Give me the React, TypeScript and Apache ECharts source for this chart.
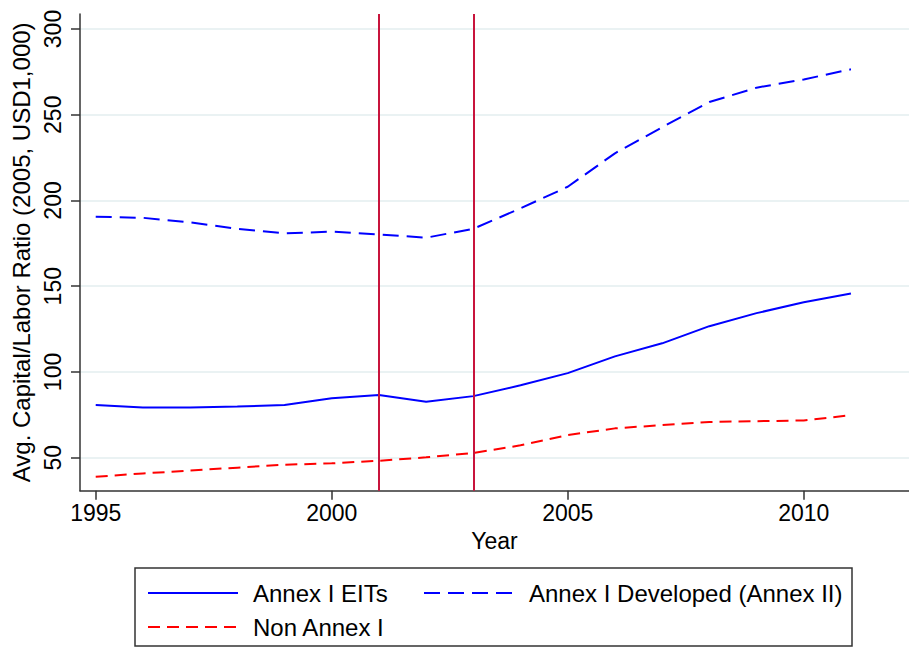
import React, { useEffect, useRef } from "react";
import * as echarts from "echarts";

// Years covered by the panel
const years = [1995, 1996, 1997, 1998, 1999, 2000, 2001, 2002, 2003, 2004, 2005, 2006, 2007, 2008, 2009, 2010, 2011];

// Average capital/labor ratio (2005, USD 1,000) by country group
const annexIEITs = [80.7, 79.2, 79.3, 79.9, 80.7, 84.6, 86.5, 82.6, 85.9, 92.2, 99.3, 109.1, 116.7, 126.7, 134.3, 140.6, 145.8];
const annexIDeveloped = [190.5, 189.9, 187.2, 183.5, 180.8, 181.8, 180.2, 178.3, 183.5, 195.4, 208.0, 227.5, 242.7, 257.4, 265.8, 270.6, 276.5];
const nonAnnexI = [38.9, 40.8, 42.5, 44.2, 45.9, 46.7, 48.2, 50.2, 52.8, 57.2, 63.2, 67.1, 69.0, 70.8, 71.3, 71.7, 74.8];

// Reference years marked with vertical lines
const markYears = [2001, 2003];

// Axis tick values
const xTicks = [1995, 2000, 2005, 2010];
const yTicks = [50, 100, 150, 200, 250, 300];

const FONT = "'Liberation Sans', Arial, Helvetica, sans-serif";

const toPairs = (vals: number[]) => years.map((y, i) => [y, vals[i]]);

export default function App() {
  const ref = useRef<HTMLDivElement>(null);

  useEffect(() => {
    if (!ref.current) return;
    const chart = echarts.init(ref.current, undefined, { renderer: "svg" });

    const legendBase = {
      orient: "horizontal" as const,
      padding: 0,
      itemWidth: 90,
      itemHeight: 14,
      selectedMode: false,
      // hide the marker dot so only the line sample shows
      itemStyle: { color: "rgba(0,0,0,0)", borderWidth: 0, opacity: 0 },
      textStyle: { fontFamily: FONT, fontSize: 24, color: "#000", padding: [0, 0, 0, 10] },
    };

    chart.setOption({
      animation: false,
      backgroundColor: "#fff",
      textStyle: { fontFamily: FONT },
      grid: { left: 80, right: 0, top: 14, bottom: 157.3, containLabel: false },
      xAxis: {
        type: "value",
        min: 1994.667,
        max: 2012.23,
        name: "Year",
        nameLocation: "middle",
        nameGap: 39,
        nameTextStyle: { fontFamily: FONT, fontSize: 23, color: "#000" },
        axisLine: { show: true, lineStyle: { color: "#333", width: 1.5 } },
        axisTick: { show: true, length: 9, customValues: xTicks, lineStyle: { color: "#333", width: 1.5 } },
        axisLabel: {
          customValues: xTicks,
          margin: 11,
          fontFamily: FONT,
          fontSize: 23,
          color: "#000",
          formatter: (v: number) => String(Math.round(v)),
        },
        splitLine: { show: false },
      },
      yAxis: {
        type: "value",
        min: 30.75,
        max: 308.75,
        name: "Avg. Capital/Labor Ratio (2005, USD1,000)",
        nameLocation: "middle",
        nameRotate: 90,
        nameGap: 43,
        nameTextStyle: { fontFamily: FONT, fontSize: 24, color: "#000" },
        axisLine: { show: true, lineStyle: { color: "#333", width: 1.5 } },
        axisTick: { show: true, length: 9, customValues: yTicks, lineStyle: { color: "#333", width: 1.5 } },
        axisLabel: {
          customValues: yTicks,
          rotate: 90,
          margin: 16,
          fontFamily: FONT,
          fontSize: 23,
          color: "#000",
          formatter: (v: number) => String(Math.round(v)),
        },
        splitLine: { show: true, lineStyle: { color: "#eaf2f3", width: 2 } },
      },
      legend: [
        { ...legendBase, data: ["Annex I EITs"], left: 147, top: 581 },
        { ...legendBase, data: ["Annex I Developed (Annex II)"], left: 423, top: 581 },
        { ...legendBase, data: ["Non Annex I"], left: 147, top: 615 },
      ],
      graphic: [
        {
          type: "rect",
          shape: { x: 135, y: 568, width: 717, height: 78 },
          style: { fill: "none", stroke: "#333", lineWidth: 1.5 },
          silent: true,
        },
      ],
      series: [
        {
          name: "Annex I EITs",
          type: "line",
          data: toPairs(annexIEITs),
          symbol: "none",
          lineStyle: { color: "#0000ff", width: 2, type: "solid" },
          itemStyle: { color: "#0000ff" },
          z: 3,
          markLine: {
            silent: true,
            symbol: ["none", "none"],
            label: { show: false },
            lineStyle: { color: "#c8143c", width: 2, type: "solid" },
            data: markYears.map((y) => ({ xAxis: y })),
          },
        },
        {
          name: "Annex I Developed (Annex II)",
          type: "line",
          data: toPairs(annexIDeveloped),
          symbol: "none",
          lineStyle: { color: "#0000ff", width: 2, type: [16, 8] },
          itemStyle: { color: "#0000ff" },
          z: 3,
        },
        {
          name: "Non Annex I",
          type: "line",
          data: toPairs(nonAnnexI),
          symbol: "none",
          lineStyle: { color: "#ff0000", width: 2, type: [12, 7] },
          itemStyle: { color: "#ff0000" },
          z: 3,
        },
      ],
    });

    return () => chart.dispose();
  }, []);

  return (
    <div
      ref={ref}
      style={{ position: "fixed", left: 0, top: 0, width: 909, height: 648, background: "#fff" }}
    />
  );
}
